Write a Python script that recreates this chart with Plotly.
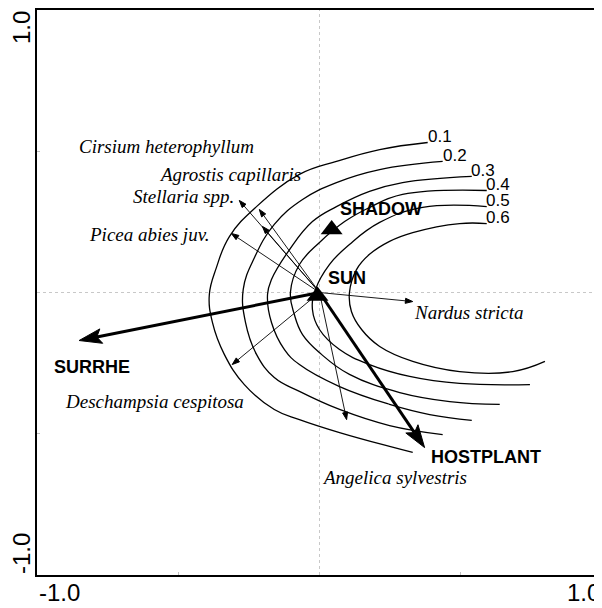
import math

import plotly.graph_objects as go

# ---- data (ordination units) -------------------------------------------------
ENV_NAMES = ["SURRHE", "HOSTPLANT"]
ENV_TIPS = [(-0.851, -0.170), (0.372, -0.549)]
ENV_LABELS = [(-0.805, -0.262), (0.589, -0.581)]

NOMINAL_NAMES = ["SHADOW", "SUN"]
NOMINAL_POINTS = [(0.043, 0.223), (-0.007, -0.012)]
NOMINAL_LABELS = [(0.216, 0.294), (0.096, 0.053)]

SPECIES_NAMES = [
    "Nardus stricta",
    "Angelica sylvestris",
    "Deschampsia cespitosa",
    "Picea abies juv.",
    "Stellaria spp.",
    "Agrostis capillaris",
    "Cirsium heterophyllum",
]
SPECIES_TIPS = [
    (0.330, -0.032),
    (0.096, -0.450),
    (-0.309, -0.255),
    (-0.312, 0.209),
    (-0.284, 0.326),
    (-0.213, 0.294),
    (-0.202, 0.234),
]
SPECIES_LABELS = [
    (0.528, -0.071),
    (0.266, -0.655),
    (-0.585, -0.386),
    (-0.603, 0.205),
    (-0.482, 0.340),
    (-0.316, 0.418),
    (-0.543, 0.517),
]

CONTOUR_LEVELS = ["0.1", "0.2", "0.3", "0.4", "0.5", "0.6"]
CONTOUR_X = [
    [0.383, 0.213, 0.060, -0.071, -0.223, -0.319, -0.365, -0.390, -0.379, -0.337, -0.266, -0.160, -0.071, 0.071, 0.248, 0.330],
    [0.436, 0.213, 0.060, -0.060, -0.160, -0.230, -0.270, -0.262, -0.223, -0.160, -0.071, 0.071, 0.248, 0.436],
    [0.539, 0.294, 0.177, 0.060, -0.025, -0.106, -0.170, -0.184, -0.170, -0.124, -0.071, 0.071, 0.248, 0.390, 0.539],
    [0.592, 0.294, 0.177, 0.089, 0.000, -0.071, -0.103, -0.089, -0.060, 0.007, 0.106, 0.284, 0.461, 0.638],
    [0.592, 0.365, 0.213, 0.106, 0.035, -0.014, -0.025, 0.000, 0.071, 0.177, 0.319, 0.496, 0.745],
    [0.592, 0.496, 0.330, 0.248, 0.177, 0.131, 0.106, 0.113, 0.149, 0.213, 0.330, 0.496, 0.684, 0.798],
]
CONTOUR_Y = [
    [0.531, 0.506, 0.464, 0.418, 0.304, 0.198, 0.088, -0.007, -0.106, -0.219, -0.326, -0.414, -0.450, -0.496, -0.545, -0.566],
    [0.464, 0.435, 0.389, 0.329, 0.241, 0.124, 0.011, -0.106, -0.219, -0.301, -0.350, -0.414, -0.471, -0.503],
    [0.411, 0.389, 0.358, 0.304, 0.251, 0.152, 0.046, -0.007, -0.106, -0.202, -0.255, -0.333, -0.396, -0.432, -0.453],
    [0.361, 0.347, 0.301, 0.251, 0.177, 0.099, 0.000, -0.078, -0.149, -0.219, -0.290, -0.354, -0.386, -0.396],
    [0.304, 0.301, 0.248, 0.170, 0.099, 0.011, -0.060, -0.131, -0.202, -0.255, -0.297, -0.322, -0.326],
    [0.244, 0.244, 0.212, 0.181, 0.135, 0.081, 0.000, -0.067, -0.131, -0.191, -0.244, -0.280, -0.280, -0.244],
]
CONTOUR_LABELS = [
    (0.387, 0.552),
    (0.440, 0.485),
    (0.539, 0.432),
    (0.592, 0.381),
    (0.592, 0.327),
    (0.592, 0.265),
]

AXIS_TICKS = ["-1.0", "1.0"]

SANS = "Liberation Sans, Arial, sans-serif"
SERIF = "Liberation Serif, Times New Roman, serif"


def arrow(fig, tip, width, head_len, head_half, notch=0.0):
    tx, ty = tip
    length = math.hypot(tx, ty)
    ux, uy = tx / length, ty / length
    bx, by = tx - ux * head_len, ty - uy * head_len
    nx, ny = bx + ux * head_len * notch, by + uy * head_len * notch
    fig.add_trace(go.Scatter(
        x=[0, nx], y=[0, ny], mode="lines",
        line=dict(color="black", width=width),
        hoverinfo="skip", showlegend=False,
    ))
    px_, py_ = -uy * head_half, ux * head_half
    fig.add_trace(go.Scatter(
        x=[tx, bx + px_, nx, bx - px_, tx], y=[ty, by + py_, ny, by - py_, ty],
        mode="lines", fill="toself", fillcolor="black",
        line=dict(color="black", width=1),
        hoverinfo="skip", showlegend=False,
    ))


fig = go.Figure()

# contour lines
for level, xs, ys in zip(CONTOUR_LEVELS, CONTOUR_X, CONTOUR_Y):
    fig.add_trace(go.Scatter(
        x=xs, y=ys, mode="lines",
        line=dict(color="black", width=1.3, shape="spline", smoothing=1.2),
        name=level, hoverinfo="skip", showlegend=False,
    ))

# species arrows
for tip in SPECIES_TIPS:
    arrow(fig, tip, 0.9, 0.026, 0.009)

# environmental arrows
for tip in ENV_TIPS:
    arrow(fig, tip, 3, 0.08, 0.026, notch=0.2)

# nominal variables
fig.add_trace(go.Scatter(
    x=[p[0] for p in NOMINAL_POINTS], y=[p[1] for p in NOMINAL_POINTS],
    mode="markers", marker=dict(symbol="triangle-up", size=19, color="black"),
    hoverinfo="skip", showlegend=False,
))

for name, (x, y) in zip(SPECIES_NAMES, SPECIES_LABELS):
    fig.add_annotation(x=x, y=y, text=name, showarrow=False,
                       font=dict(family=SERIF, size=19, color="black", style="italic"))

for name, (x, y) in zip(ENV_NAMES + NOMINAL_NAMES, ENV_LABELS + NOMINAL_LABELS):
    fig.add_annotation(x=x, y=y, text=name, showarrow=False,
                       font=dict(family=SANS, size=18, color="black", weight="bold"))

for level, (x, y) in zip(CONTOUR_LEVELS, CONTOUR_LABELS):
    fig.add_annotation(x=x, y=y, text=level, showarrow=False, xanchor="left",
                       xshift=-2, borderpad=0, font=dict(family=SANS, size=17, color="black"))

# axis end labels
tick_font = dict(family=SANS, size=24, color="black")
fig.add_annotation(x=-1, y=0, xref="x", yref="paper", text=AXIS_TICKS[0], showarrow=False,
                   xanchor="left", yanchor="top", yshift=-2, font=tick_font)
fig.add_annotation(x=1, y=0, xref="x", yref="paper", text=AXIS_TICKS[1], showarrow=False,
                   xanchor="right", yanchor="top", yshift=-2, font=tick_font)
fig.add_annotation(x=0, y=1, xref="paper", yref="y", text=AXIS_TICKS[1], showarrow=False,
                   textangle=-90, xanchor="right", yanchor="top", xshift=-1, borderpad=0,
                   font=tick_font)
fig.add_annotation(x=0, y=-1, xref="paper", yref="y", text=AXIS_TICKS[0], showarrow=False,
                   textangle=-90, xanchor="right", yanchor="bottom", xshift=-1, borderpad=0,
                   font=tick_font)

# dotted origin lines
fig.add_shape(type="line", x0=-1, x1=1, y0=0, y1=0, xref="x", yref="y",
              line=dict(color="#c8c8c8", width=1, dash="dot"), layer="below")
fig.add_shape(type="line", x0=0, x1=0, y0=-1, y1=1, xref="x", yref="y",
              line=dict(color="#c8c8c8", width=1, dash="dot"), layer="below")

fig.update_xaxes(range=[-1, 1], showgrid=False, zeroline=False, showline=True, mirror=True,
                 linecolor="black", linewidth=1.5, tickvals=[-0.5, 0.5], ticks="inside",
                 ticklen=3, tickcolor="#c0c0c0", showticklabels=False)
fig.update_yaxes(range=[-1, 1], showgrid=False, zeroline=False, showline=True, mirror=False,
                 linecolor="black", linewidth=1.5, tickvals=[-0.5, 0.5], ticks="inside",
                 ticklen=3, tickcolor="#c0c0c0", showticklabels=False)

# the page body adds an 8px margin, so the figure is sized to fit inside it
fig.update_layout(
    width=594, height=600,
    margin=dict(l=29, r=0, t=2, b=33),
    plot_bgcolor="white", paper_bgcolor="white",
    showlegend=False,
)

fig.write_html("out.html")
